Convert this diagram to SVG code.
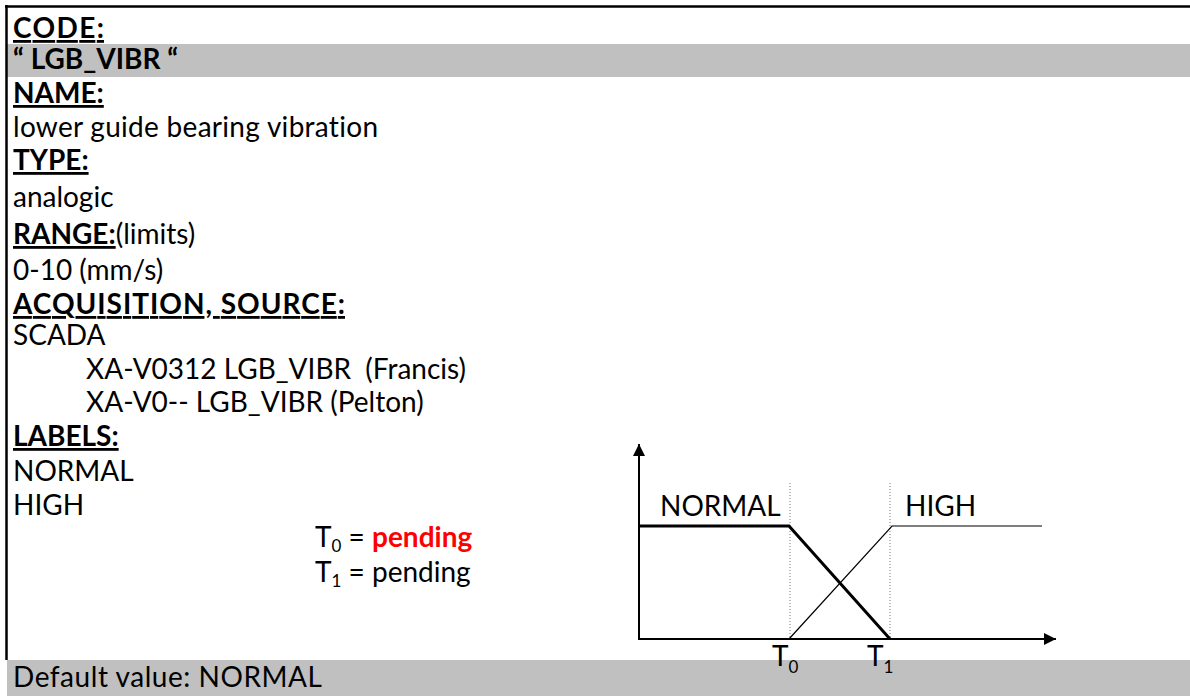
<svg xmlns="http://www.w3.org/2000/svg" width="1190" height="696" viewBox="0 0 1190 696">
<style>
  text { font-family: Lato, "Open Sans", "Liberation Sans", sans-serif; font-size: 28px; fill: #000; font-variant-ligatures: none; }
  .h { font-weight: bold; text-decoration: underline; }
  .b { font-weight: bold; }
  .red { fill: #ff0000; font-weight: bold; }
  .sub { font-size: 17px; }
  .band { fill: #c0c0c0; }
  .axis { stroke: #000; stroke-width: 2; fill: none; }
  .dot { stroke: #777; stroke-width: 1; stroke-dasharray: 1 2; fill: none; }
</style>
<defs>
  <marker id="arr" viewBox="0 0 10 10" refX="10" refY="5" markerWidth="13" markerHeight="12" orient="auto" markerUnits="userSpaceOnUse">
    <path d="M0,0 L10,5 L0,10 z" fill="#000"/>
  </marker>
</defs>
<rect x="0" y="0" width="1190" height="696" fill="#fff"/>
<rect class="band" x="7" y="44" width="1183" height="33"/>
<rect class="band" x="7" y="660" width="1183" height="36"/>
<line x1="5" y1="6.5" x2="1190" y2="6.5" stroke="#000" stroke-width="2.5"/>
<line x1="6.5" y1="5" x2="6.5" y2="660" stroke="#000" stroke-width="2.5"/>

<g id="text-fields">
  <text class="h" x="13" y="38" textLength="91" lengthAdjust="spacing">CODE:</text>
  <text class="b" x="13" y="69">“ LGB_VIBR “</text>
  <text class="h" x="13" y="103">NAME:</text>
  <text x="13" y="137" textLength="365" lengthAdjust="spacing">lower guide bearing vibration</text>
  <text class="h" x="13" y="170">TYPE:</text>
  <text x="13" y="207">analogic</text>
  <text x="13" y="244"><tspan class="h">RANGE:</tspan>(limits)</text>
  <text x="13" y="280">0-10 (mm/s)</text>
  <text class="h" x="13" y="314" textLength="332" lengthAdjust="spacing">ACQUISITION, SOURCE:</text>
  <text x="13" y="345">SCADA</text>
  <text x="86" y="379" xml:space="preserve">XA-V0312 LGB_VIBR  (Francis)</text>
  <text x="86" y="412">XA-V0-- LGB_VIBR (Pelton)</text>
  <text class="h" x="13" y="446">LABELS:</text>
  <text x="13" y="481">NORMAL</text>
  <text x="13" y="515">HIGH</text>
  <text x="315" y="547">T<tspan class="sub" dy="5">0</tspan><tspan dy="-5"> = </tspan><tspan class="red">pending</tspan></text>
  <text x="315" y="582">T<tspan class="sub" dy="5">1</tspan><tspan dy="-5"> = pending</tspan></text>
  <text x="13" y="687" textLength="309" lengthAdjust="spacing">Default value: NORMAL</text>
</g>

<g id="chart">
  <line class="dot" x1="790" y1="483" x2="790" y2="638"/>
  <line class="dot" x1="890" y1="483" x2="890" y2="638"/>
  <line class="axis" x1="639" y1="639" x2="639" y2="444" marker-end="url(#arr)"/>
  <line class="axis" x1="638" y1="639" x2="1056" y2="639" marker-end="url(#arr)"/>
  <polyline points="639,526 789,526 890,639" stroke="#000" stroke-width="3" fill="none"/>
  <polyline points="789,639 892,526 1042,526" stroke="#000" stroke-width="1.2" fill="none"/>
  <text x="660" y="516">NORMAL</text>
  <text x="905" y="516">HIGH</text>
  <text x="772" y="666">T<tspan class="sub" dy="7">0</tspan></text>
  <text x="867" y="666">T<tspan class="sub" dy="7">1</tspan></text>
</g>
</svg>
